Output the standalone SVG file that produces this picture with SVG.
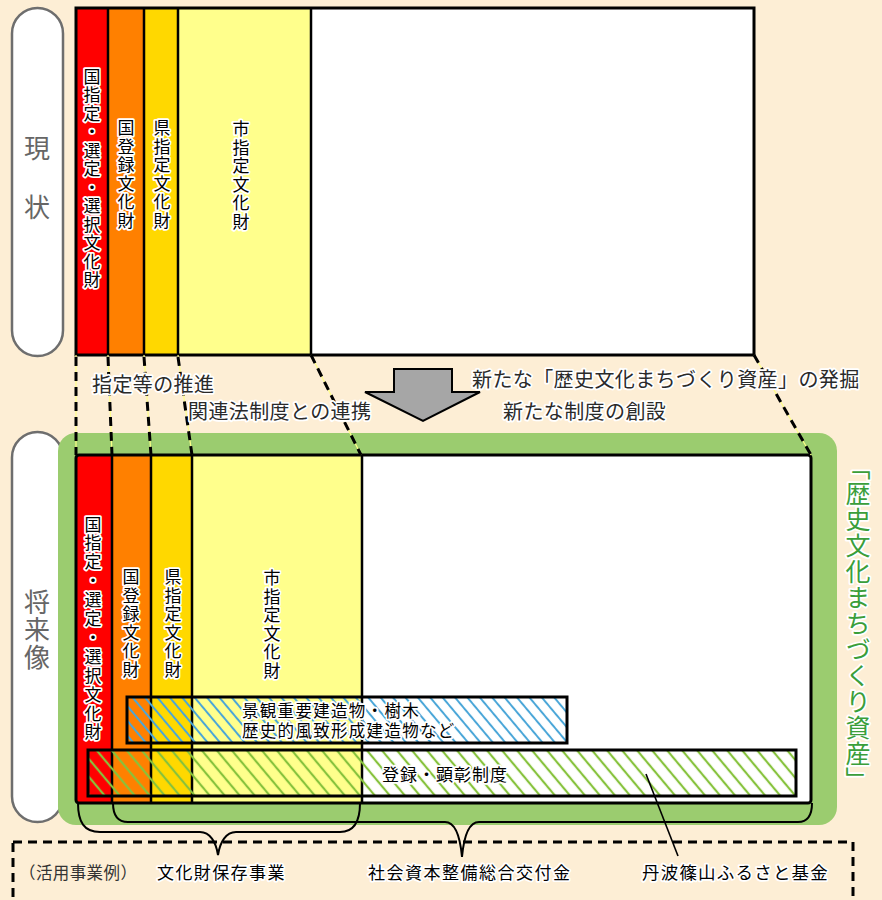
<svg xmlns="http://www.w3.org/2000/svg" width="882" height="900" viewBox="0 0 882 900">
<style>
text { font-family: "Noto Sans CJK JP", "Noto Sans", sans-serif; }
.halo { paint-order: stroke; stroke: #ffffff; stroke-width: 3.5; stroke-linejoin: round; }
.pilltext { fill: #666666; font-size: 26px; text-anchor: middle; }
.vt { writing-mode: vertical-rl; text-anchor: middle; font-size: 17px; letter-spacing: 1.5px; fill: #000; }
.mid { font-size: 20px; fill: #2a2a2a; letter-spacing: 0.4px; }
.lbl { font-size: 17px; fill: #000; letter-spacing: 1px; }
.pill { fill: #ffffff; stroke: #6e6e6e; stroke-width: 2.5; }
.frame { fill: none; stroke: #000; stroke-width: 3; }
.col { stroke: #000; stroke-width: 2.5; }
.dashY { stroke: #ffff88; stroke-width: 1.2; fill: none; }
.dashK { stroke: #000; stroke-width: 3; stroke-dasharray: 9 6; fill: none; }
.brace { fill: none; stroke: #000; stroke-width: 2; }
</style>
<defs>
<pattern id="hatchBlue" patternUnits="userSpaceOnUse" width="9.5" height="9.5" patternTransform="rotate(-40)">
<line x1="4.75" y1="0" x2="4.75" y2="9.5" stroke="#4aa6d8" stroke-width="2"/>
</pattern>
<pattern id="hatchGreen" patternUnits="userSpaceOnUse" width="11.5" height="11.5" patternTransform="rotate(-40)">
<line x1="5.75" y1="0" x2="5.75" y2="11.5" stroke="#86c23c" stroke-width="2.2"/>
</pattern>
</defs>
<rect x="0" y="0" width="882" height="900" fill="#fdeed5"/>

<g id="label-genjo">
<rect class="pill" x="12" y="8" width="51" height="348" rx="25.5"/>
<text class="pilltext" x="37" y="158">現</text>
<text class="pilltext" x="37" y="217">状</text>
</g>

<g id="label-shoraizo">
<rect class="pill" x="12" y="432" width="51" height="390" rx="25.5"/>
<text class="pilltext" x="37" y="630" style="writing-mode:vertical-rl;letter-spacing:1.5px">将来像</text>
</g>

<g id="current-state">
<rect x="76" y="8" width="32" height="347" fill="#ff0000"/>
<rect x="108" y="8" width="36" height="347" fill="#ff8000"/>
<rect x="144" y="8" width="34" height="347" fill="#ffd800"/>
<rect x="178" y="8" width="133" height="347" fill="#ffff8c"/>
<rect x="311" y="8" width="443" height="347" fill="#ffffff"/>
<line class="col" x1="108" y1="8" x2="108" y2="355"/>
<line class="col" x1="144" y1="8" x2="144" y2="355"/>
<line class="col" x1="178" y1="8" x2="178" y2="355"/>
<line class="col" x1="311" y1="8" x2="311" y2="355"/>
<rect class="frame" x="76" y="8" width="678" height="347"/>
<text class="vt halo" x="92" y="179">国指定・選定・選択文化財</text>
<text class="vt halo" x="126" y="175">国登録文化財</text>
<text class="vt halo" x="162" y="175">県指定文化財</text>
<text class="vt halo" x="241" y="176">市指定文化財</text>
</g>

<g id="future-state">
<rect x="58" y="433" width="779" height="392" rx="18" fill="#9bcc6f"/>
<rect x="76" y="455" width="36" height="348" fill="#ff0000"/>
<rect x="112" y="455" width="39" height="348" fill="#ff8000"/>
<rect x="151" y="455" width="41" height="348" fill="#ffd800"/>
<rect x="192" y="455" width="170" height="348" fill="#ffff8c"/>
<rect x="362" y="455" width="449" height="348" fill="#ffffff"/>
<line class="col" x1="112" y1="455" x2="112" y2="803"/>
<line class="col" x1="151" y1="455" x2="151" y2="803"/>
<line class="col" x1="192" y1="455" x2="192" y2="803"/>
<line class="col" x1="362" y1="455" x2="362" y2="803"/>
<rect class="frame" x="76" y="455" width="735" height="348" rx="3"/>
<text class="vt halo" x="93" y="629" style="letter-spacing:1.9px">国指定・選定・選択文化財</text>
<text class="vt halo" x="131" y="624">国登録文化財</text>
<text class="vt halo" x="173" y="624">県指定文化財</text>
<text class="vt halo" x="272" y="625">市指定文化財</text>
<text class="halo" x="858" y="624" style="writing-mode:vertical-rl;text-anchor:middle;font-size:25px;letter-spacing:1px;fill:#3a9e3a">「歴史文化まちづくり資産」</text>
</g>

<g id="keikan-box">
<rect x="127" y="697" width="440" height="46" fill="url(#hatchBlue)" stroke="#000" stroke-width="3"/>
<text class="lbl halo" style="font-size:16.5px;letter-spacing:1.3px"><tspan x="242" y="717">景観重要建造物・樹木</tspan><tspan x="242" y="737">歴史的風致形成建造物など</tspan></text>
</g>

<g id="toroku-box">
<rect x="88" y="750" width="708" height="46" fill="url(#hatchGreen)" stroke="#000" stroke-width="3"/>
<text class="lbl halo" x="382" y="781">登録・顕彰制度</text>
</g>

<g id="connectors">
<line class="dashY" x1="76" y1="355" x2="76" y2="455"/>
<line class="dashY" x1="108" y1="355" x2="112" y2="455"/>
<line class="dashY" x1="144" y1="355" x2="151" y2="455"/>
<line class="dashY" x1="178" y1="355" x2="192" y2="455"/>
<line class="dashY" x1="311" y1="355" x2="361" y2="455"/>
<line class="dashY" x1="754" y1="355" x2="811" y2="455"/>
<line class="dashK" x1="76" y1="357" x2="76" y2="455"/>
<line class="dashK" x1="108" y1="357" x2="112" y2="455"/>
<line class="dashK" x1="144" y1="357" x2="151" y2="455"/>
<line class="dashK" x1="178" y1="357" x2="192" y2="455"/>
<line class="dashK" x1="311" y1="355" x2="361" y2="455"/>
<line class="dashK" x1="754" y1="355" x2="811" y2="455"/>
<polygon points="394,369 452,369 452,392 480,392 423,421 365,392 394,392" fill="#a6a6a6" stroke="#000" stroke-width="2" stroke-linejoin="miter"/>
<path class="brace" d="M78,803 C78,822 84,832 100,832 L200,832 C210,832 216,842 218,855 C220,842 226,832 236,832 L340,832 C354,832 360,822 360,803"/>
<path class="brace" d="M113,803 C113,815 117,822 128,822 L445,822 C455,822 460,835 462,857 C464,835 469,822 479,822 L798,822 C808,822 812,815 812,803"/>
<line x1="646" y1="774" x2="678" y2="856" stroke="#000" stroke-width="1.6"/>
</g>

<g id="middle-labels">
<text class="mid halo" x="92" y="392">指定等の推進</text>
<text class="mid halo" x="188" y="419">関連法制度との連携</text>
<text class="mid halo" x="472" y="387">新たな「歴史文化まちづくり資産」の発掘</text>
<text class="mid halo" x="503" y="419">新たな制度の創設</text>
</g>

<g id="examples">
<rect x="13" y="842" width="840" height="80" fill="none" stroke="#000" stroke-width="3" stroke-dasharray="9 6"/>
<text x="19" y="879" style="font-size:16.5px;letter-spacing:0.4px;fill:#333">（活用事業例）</text>
<text class="halo" x="157" y="879" style="font-size:17px;letter-spacing:1.4px">文化財保存事業</text>
<text class="halo" x="368" y="879" style="font-size:17px;letter-spacing:1.5px">社会資本整備総合交付金</text>
<text class="halo" x="642" y="879" style="font-size:17.5px;letter-spacing:1.2px">丹波篠山ふるさと基金</text>
</g>
</svg>
